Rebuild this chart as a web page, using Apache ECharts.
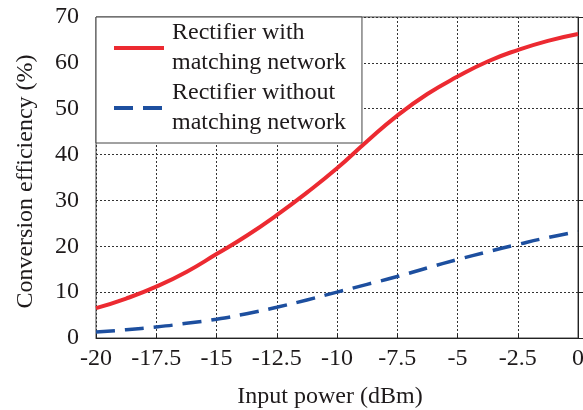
<!DOCTYPE html>
<html>
<head>
<meta charset="utf-8">
<script src="https://cdn.jsdelivr.net/npm/echarts@6/dist/echarts.min.js"></script>
<style>
  html, body { margin: 0; padding: 0; background: #fff; }
  #chart { width: 583px; height: 410px; }
</style>
</head>
<body>
<div id="chart"></div>
<script>
// Input power sweep (dBm)
const inputPower = [-20, -18.75, -17.5, -16.25, -15, -13.75, -12.5, -11.25, -10,
                    -8.75, -7.5, -6.25, -5, -3.75, -2.5, -1.25, 0];
// Conversion efficiency (%) with the matching network
const withMatching = [6.5, 8.6, 11.2, 14.4, 18.3, 22.3, 26.8, 31.7, 37.0,
                      42.9, 48.5, 53.2, 57.0, 60.3, 62.8, 64.8, 66.3];
// Conversion efficiency (%) without the matching network
const withoutMatching = [1.3, 1.8, 2.4, 3.2, 4.1, 5.3, 6.7, 8.3, 10.0,
                         11.7, 13.4, 15.3, 17.1, 18.8, 20.4, 21.9, 23.2];

const seriesNames = ['Rectifier with\nmatching network', 'Rectifier without\nmatching network'];
const xTitle = 'Input power (dBm)';
const yTitle = 'Conversion efficiency (%)';

const pair = (xs, ys) => xs.map((x, i) => [x, ys[i]]);

const FONT = '"Liberation Serif", "DejaVu Serif", serif';
const TEXT = '#1e1a1b';
const FS = 24;

const chart = echarts.init(document.getElementById('chart'), null, { renderer: 'canvas' });
chart.setOption({
  animation: false,
  backgroundColor: '#fff',
  textStyle: { fontFamily: FONT, color: TEXT },
  grid: {
    left: 96, right: 5, top: 17, bottom: 72,
    outerBoundsMode: 'none',
    containLabel: false,
    show: true, borderColor: '#444', borderWidth: 1, backgroundColor: 'transparent'
  },
  legend: {
    orient: 'vertical',
    left: 96, top: 17,
    padding: [1, 16, 5, 16],
    itemGap: 0,
    itemWidth: 50,
    itemHeight: 14,
    backgroundColor: '#fff',
    borderColor: '#444',
    borderWidth: 1,
    borderRadius: 0,
    itemStyle: { opacity: 0 },
    lineStyle: { width: 4 },
    textStyle: {
      fontFamily: FONT, fontSize: FS, color: TEXT,
      lineHeight: 30, padding: [0, 0, 0, 3]
    },
    data: seriesNames
  },
  xAxis: {
    type: 'value',
    min: -20, max: 0, interval: 2.5,
    name: xTitle,
    nameLocation: 'middle',
    nameGap: 47,
    nameTextStyle: { fontFamily: FONT, fontSize: FS, color: TEXT, padding: [0, 14, 0, 0] },
    axisLine: { show: true, lineStyle: { color: '#222', width: 1 } },
    axisTick: { show: true, inside: true, length: 4, lineStyle: { color: '#222' } },
    axisLabel: { fontFamily: FONT, fontSize: FS, color: TEXT, margin: 9 },
    splitLine: { show: true, lineStyle: { color: '#333', type: [2, 2], width: 1 } }
  },
  yAxis: {
    type: 'value',
    min: 0, max: 70, interval: 10,
    name: yTitle,
    nameLocation: 'middle',
    nameGap: 58,
    nameTextStyle: { fontFamily: FONT, fontSize: FS, color: TEXT, padding: [0, 8, 0, 0] },
    axisLine: { show: true, lineStyle: { color: '#222', width: 1 } },
    axisTick: { show: true, inside: true, length: 7, lineStyle: { color: '#222' } },
    axisLabel: { fontFamily: FONT, fontSize: FS, color: TEXT, margin: 17 },
    splitLine: { show: true, lineStyle: { color: '#333', type: [2, 2], width: 1 } }
  },
  series: [
    {
      name: seriesNames[0],
      type: 'line',
      data: pair(inputPower, withMatching),
      smooth: true,
      showSymbol: false,
      symbol: 'none',
      lineStyle: { color: '#ec2a31', width: 4 },
      itemStyle: { color: '#ec2a31' }
    },
    {
      name: seriesNames[1],
      type: 'line',
      data: pair(inputPower, withoutMatching),
      smooth: true,
      showSymbol: false,
      symbol: 'none',
      lineStyle: { color: '#1d4f9f', width: 3.5, type: [19, 10] },
      itemStyle: { color: '#1d4f9f' }
    }
  ]
});
</script>
</body>
</html>
